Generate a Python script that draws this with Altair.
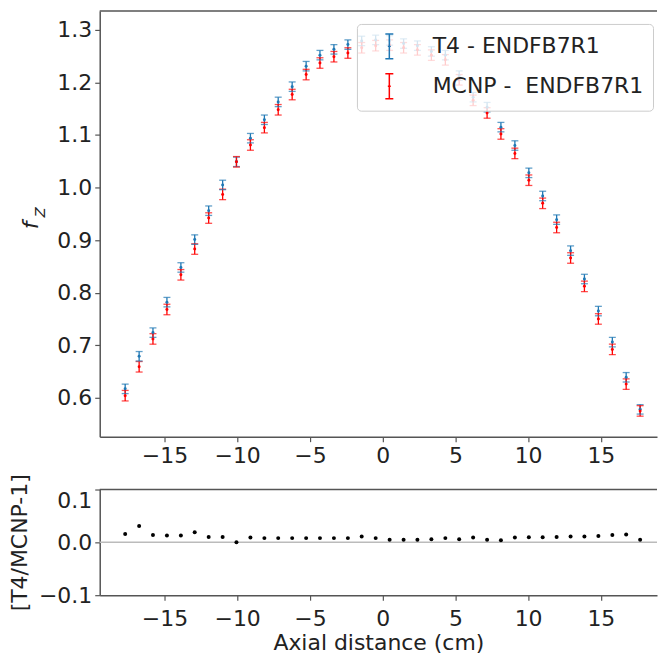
import altair as alt
import pandas as pd

# ---- data ----
axial = [-17.70, -16.74, -15.79, -14.83, -13.87, -12.92, -11.96, -11.00, -10.05, -9.09,
         -8.13, -7.18, -6.22, -5.26, -4.31, -3.35, -2.39, -1.44, -0.48, 0.48,
         1.44, 2.39, 3.35, 4.31, 5.26, 6.22, 7.18, 8.13, 9.09, 10.05,
         11.00, 11.96, 12.92, 13.87, 14.83, 15.79, 16.74, 17.70]

t4 = [0.617, 0.679, 0.724, 0.782, 0.848, 0.901, 0.956, 1.005, 1.049, 1.094,
      1.129, 1.163, 1.192, 1.231, 1.252, 1.263, 1.272, 1.279, 1.281, 1.280,
      1.274, 1.270, 1.259, 1.252, 1.213, 1.172, 1.153, 1.115, 1.080, 1.028,
      0.984, 0.939, 0.880, 0.826, 0.765, 0.706, 0.639, 0.578]
t4_err = [0.009, 0.009, 0.009, 0.009, 0.009, 0.009, 0.009, 0.009, 0.009, 0.009,
          0.009, 0.009, 0.009, 0.009, 0.009, 0.009, 0.009, 0.009, 0.009, 0.009,
          0.009, 0.009, 0.009, 0.009, 0.009, 0.009, 0.009, 0.009, 0.009, 0.009,
          0.009, 0.009, 0.009, 0.009, 0.009, 0.009, 0.009, 0.009]

mcnp = [0.604, 0.659, 0.712, 0.768, 0.834, 0.883, 0.942, 0.987, 1.049, 1.081,
        1.114, 1.148, 1.177, 1.215, 1.237, 1.249, 1.256, 1.266, 1.270, 1.271,
        1.266, 1.262, 1.252, 1.243, 1.205, 1.166, 1.142, 1.102, 1.065, 1.014,
        0.970, 0.924, 0.866, 0.812, 0.750, 0.692, 0.626, 0.575]
mcnp_err = [0.010, 0.010, 0.010, 0.010, 0.010, 0.010, 0.010, 0.010, 0.010, 0.010,
            0.010, 0.010, 0.010, 0.010, 0.010, 0.010, 0.010, 0.010, 0.010, 0.010,
            0.010, 0.010, 0.010, 0.010, 0.010, 0.010, 0.010, 0.010, 0.010, 0.010,
            0.010, 0.010, 0.010, 0.010, 0.010, 0.010, 0.010, 0.010]

ratio = [0.016, 0.031, 0.014, 0.013, 0.013, 0.019, 0.010, 0.010, 0.000, 0.009,
         0.008, 0.008, 0.008, 0.008, 0.008, 0.008, 0.008, 0.011, 0.008, 0.005,
         0.005, 0.005, 0.006, 0.008, 0.006, 0.009, 0.005, 0.004, 0.009, 0.0095,
         0.0095, 0.010, 0.011, 0.011, 0.012, 0.014, 0.015, 0.005]

series_names = ["T4 - ENDFB7R1", "MCNP - \u00a0ENDFB7R1"]
series_colors = ["#1f77b4", "#ff0000"]
x_ticks = [-15, -10, -5, 0, 5, 10, 15]
y_ticks_top = [0.6, 0.7, 0.8, 0.9, 1.0, 1.1, 1.2, 1.3]
y_ticks_bottom = [-0.1, 0.0, 0.1]

# ---- tables ----
rows = []
for name, vals, errs in [(series_names[0], t4, t4_err), (series_names[1], mcnp, mcnp_err)]:
    for xv, yv, ev in zip(axial, vals, errs):
        rows.append({"series": name, "x": xv, "y": yv, "lo": yv - ev, "hi": yv + ev})
df = pd.DataFrame(rows)
df_ratio = pd.DataFrame({"x": axial, "r": ratio})
df_zero = pd.DataFrame({"z": [0.0]})

FONT = "DejaVu Sans"
W = 559
H1 = 427
H2 = 106
XDOM = [-19.45, 18.86]

xscale = alt.Scale(domain=XDOM, nice=False, zero=False)

path = "M0,-1L0,1M-0.32,-1L0.32,-1M-0.32,1L0.32,1M-0.12,0L0.12,0"

x_axis_top = alt.Axis(values=x_ticks, title=None, grid=False, labelFontSize=22, tickSize=5,
                      labelPadding=4, format="d")
y_axis_top = alt.Axis(values=y_ticks_top, title=None, grid=False, labelFontSize=22, tickSize=5,
                      labelPadding=3, format=".1f")

base = alt.Chart(df)
rules = base.mark_rule(strokeWidth=1.3).encode(
    x=alt.X("x:Q", scale=xscale, axis=x_axis_top),
    y=alt.Y("lo:Q", scale=alt.Scale(domain=[0.526, 1.336], nice=False, zero=False), axis=y_axis_top),
    y2="hi:Q",
    color=alt.Color("series:N", scale=alt.Scale(domain=series_names, range=series_colors),
                    sort=series_names,
                    legend=alt.Legend(title=None, orient="none", legendX=258, legendY=13,
                                      symbolType=path, symbolSize=625, symbolStrokeWidth=1.5,
                                      symbolFillColor="transparent",
                                      labelFontSize=22, labelFont=FONT, labelColor="#222",
                                      labelLimit=400,
                                      fillColor="rgba(255,255,255,0.8)", strokeColor="#cccccc",
                                      cornerRadius=4, padding=9, rowPadding=9,
                                      symbolOffset=10, labelOffset=30)),
)
caps_hi = base.mark_tick(orient="horizontal", size=7, thickness=1.3).encode(
    x="x:Q", y="hi:Q", color=alt.Color("series:N", legend=None))
caps_lo = base.mark_tick(orient="horizontal", size=7, thickness=1.3).encode(
    x="x:Q", y="lo:Q", color=alt.Color("series:N", legend=None))
dots = base.mark_circle(size=9, opacity=1).encode(
    x="x:Q", y="y:Q", color=alt.Color("series:N", legend=None))

top_spine = alt.Chart(df_zero).mark_rule(color="#555", strokeWidth=1.5).encode(
    x=alt.value(0), x2=alt.value(W), y=alt.value(0))
f_text = alt.Chart(df_zero).mark_text(text="f", font=FONT, fontSize=22, fontStyle="italic",
                                       angle=270, align="center", baseline="middle",
                                       color="#222").encode(x=alt.value(-69), y=alt.value(215))
z_text = alt.Chart(df_zero).mark_text(text="Z", font=FONT, fontSize=15, fontStyle="italic",
                                       angle=270, align="center", baseline="middle",
                                       color="#222").encode(x=alt.value(-60), y=alt.value(202))

top = alt.layer(rules, caps_hi, caps_lo, dots, top_spine, f_text, z_text).properties(width=W, height=H1)

# ---- bottom panel ----
x_axis_bot = alt.Axis(values=x_ticks, title="Axial distance (cm)", grid=False, labelFontSize=22,
                      tickSize=5, labelPadding=8, format="d", titleFontSize=22,
                      titleFontWeight="normal", titlePadding=3)
y_axis_bot = alt.Axis(values=y_ticks_bottom, title="[T4/MCNP-1]", grid=False, labelFontSize=22,
                      tickSize=5, labelPadding=3, format=".1f", titleFontSize=22,
                      titleFontWeight="normal", titlePadding=7,
                      labelOffset={"condition": {"test": "datum.value > 0.05", "value": 11}, "value": 0})

zero_line = alt.Chart(df_zero).mark_rule(color="#bbbbbb", strokeWidth=1.5).encode(
    y=alt.Y("z:Q", scale=alt.Scale(domain=[-0.1, 0.1], nice=False), axis=y_axis_bot))
ratio_pts = alt.Chart(df_ratio).mark_circle(size=16, color="black", opacity=1).encode(
    x=alt.X("x:Q", scale=xscale, axis=x_axis_bot),
    y=alt.Y("r:Q", scale=alt.Scale(domain=[-0.1, 0.1], nice=False)),
)
bot_spine = alt.Chart(df_zero).mark_rule(color="#555", strokeWidth=1.5).encode(
    x=alt.value(0), x2=alt.value(W), y=alt.value(0))

bottom = alt.layer(zero_line, ratio_pts, bot_spine).properties(width=W, height=H2)

chart = alt.vconcat(top, bottom, spacing=7).properties(
    padding={"left": 0, "top": 1, "right": 0, "bottom": 0}
).configure_view(stroke=None).configure_axis(
    labelFont=FONT, titleFont=FONT, labelColor="#222", titleColor="#222",
    domainColor="#555", domainWidth=1.5, tickColor="#555", tickWidth=1.2
).resolve_scale(color="independent")

chart.save("out.html", embed_options={"renderer": "svg", "actions": False})
